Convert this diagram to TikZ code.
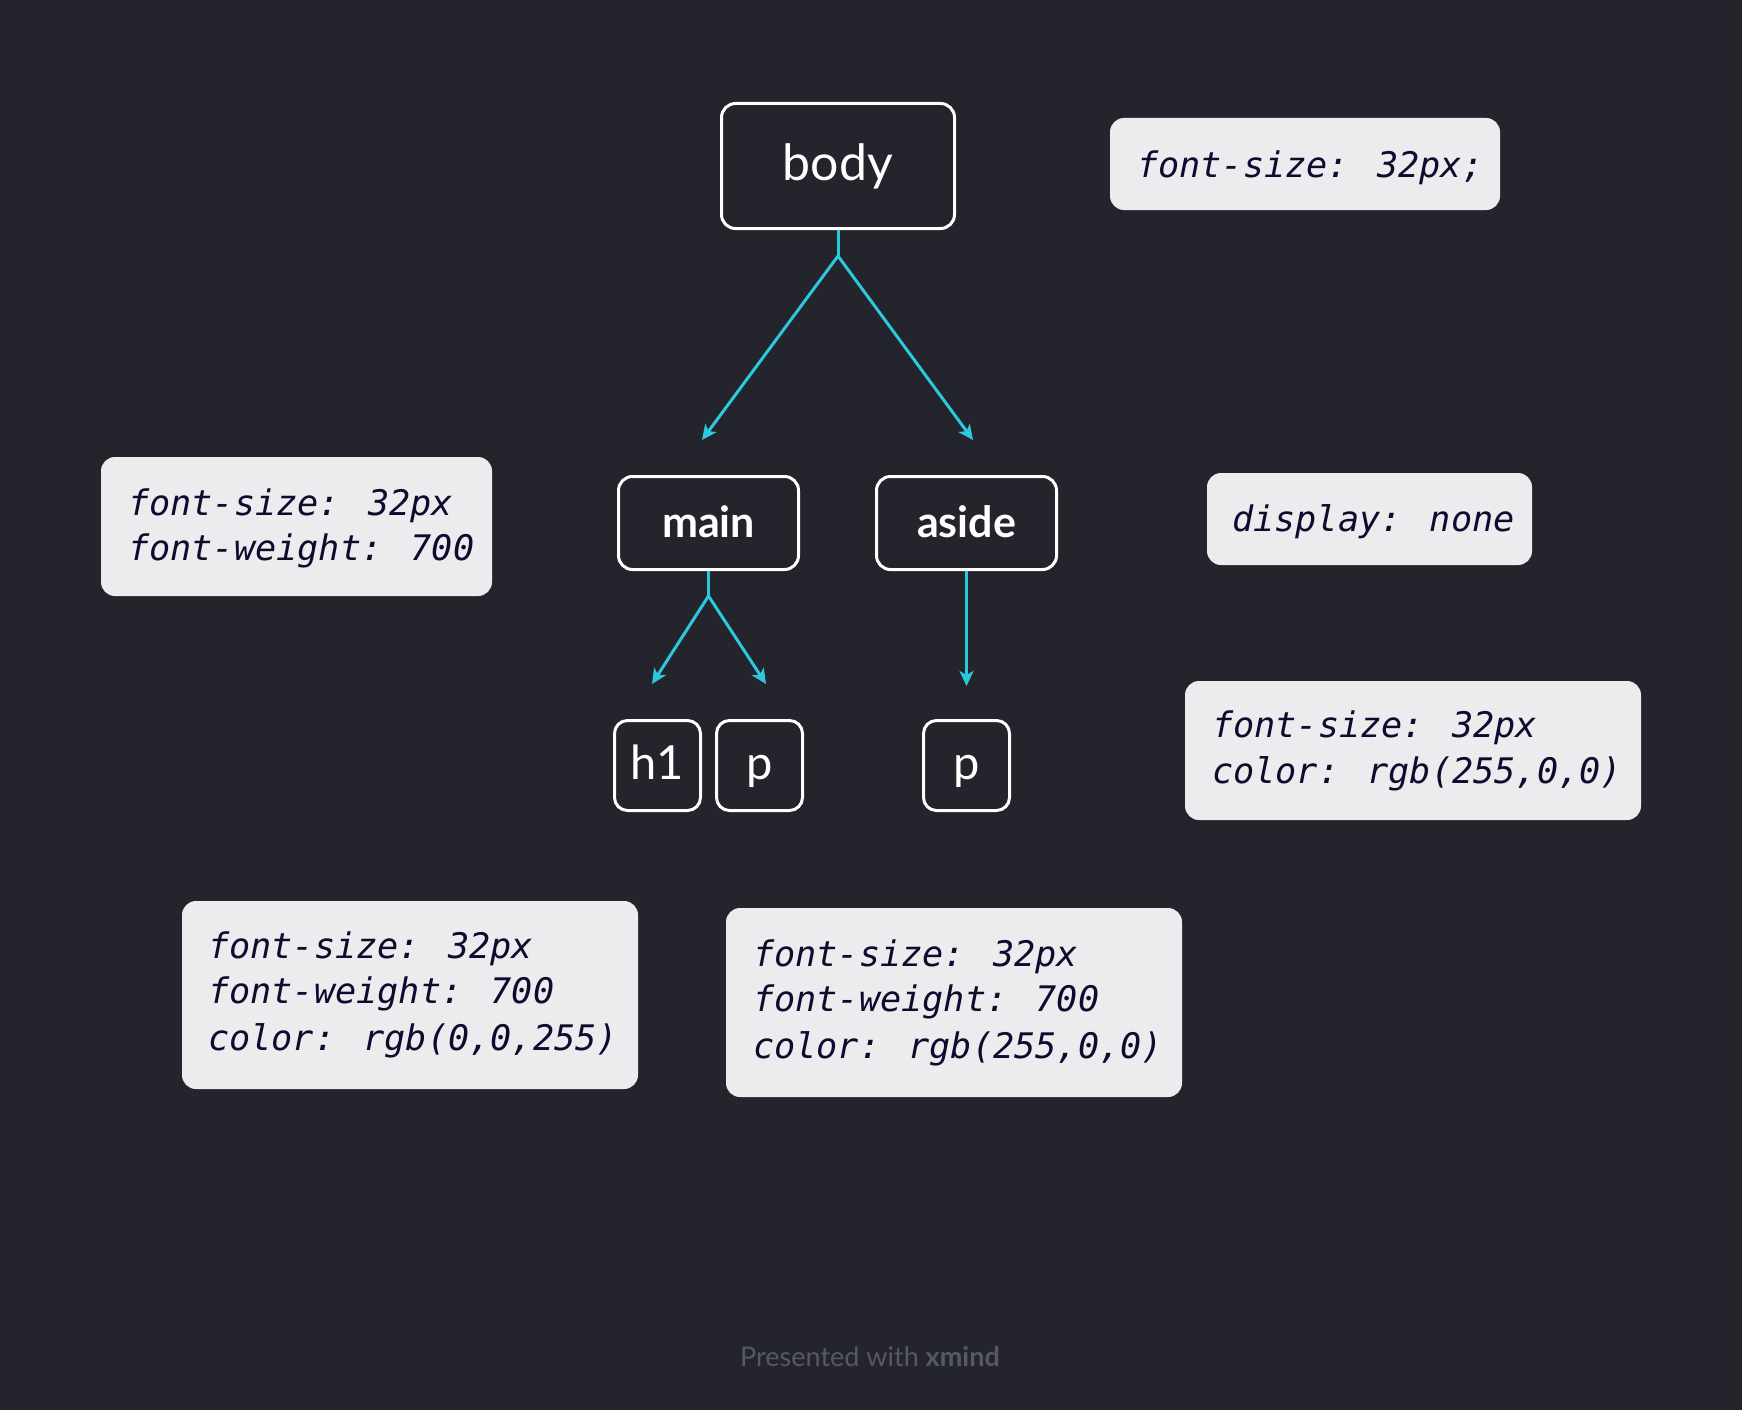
\documentclass[tikz,border=0pt]{standalone}
\usepackage{fontspec}
\setmainfont{Lato}
\newfontfamily\monof{DejaVu Sans Mono}[ItalicFont={DejaVu Sans Mono Oblique}]
\usetikzlibrary{arrows.meta}
\definecolor{bg}{HTML}{23242C}
\definecolor{notefill}{HTML}{EDEBEE}
\definecolor{notetext}{HTML}{0D0B2E}
\definecolor{cyanline}{HTML}{2CC9DD}
\definecolor{footgray}{HTML}{575961}
\begin{document}
\begin{tikzpicture}[x=1pt,y=-1pt,
  topic/.style={draw=white, line width=3pt, rounded corners=14pt, fill=bg, text=white,
    inner sep=0pt, text height=38pt, text depth=10pt},
  toplabel/.style={topic, font=\fontsize{50}{58}\selectfont},
  sublabel/.style={topic, font=\bfseries\fontsize{43}{50}\selectfont},
  leaflabel/.style={topic, font=\fontsize{47}{54}\selectfont, rounded corners=13pt},
  note/.style={fill=notefill, draw=none, rounded corners=14pt, inner sep=0pt},
  notetxt/.style={anchor=base west, inner sep=0pt, text=notetext,
    font=\monof\itshape\fontsize{35.2}{46}\selectfont},
  cline/.style={draw=cyanline, line width=3pt},
  conn/.style={cline, -{Stealth[length=15pt,width=14pt,inset=4pt]}}
]
\fill[bg] (0,0) rectangle (1742,1410);
\useasboundingbox (0,0) rectangle (1742,1410);

% topic nodes
\node[toplabel, minimum width=233pt, minimum height=125pt] (body) at (838,166) {body};
\node[sublabel, minimum width=180pt, minimum height=93pt] (main) at (708.5,523) {main};
\node[sublabel, minimum width=180pt, minimum height=93pt] (aside) at (966.5,523) {aside};
\node[leaflabel, minimum width=86pt, minimum height=90pt] (h1) at (657.5,765.5) {h1};
\node[leaflabel, minimum width=86pt, minimum height=90pt] (p1) at (759.5,765.5) {p};
\node[leaflabel, minimum width=86pt, minimum height=90pt] (p2) at (966.5,765.5) {p};

% connectors
\coordinate (bodyfork) at (838,256);
\coordinate (bodyL) at (702,440);
\coordinate (bodyR) at (973,440);
\coordinate (mainfork) at (708.5,596);
\coordinate (mainL) at (652,684);
\coordinate (mainR) at (766,684);
\coordinate (asideEnd) at (966.5,686);
\draw[cline] (body.south) -- (bodyfork);
\draw[conn] (bodyfork) -- (bodyL);
\draw[conn] (bodyfork) -- (bodyR);
\draw[cline] (main.south) -- (mainfork);
\draw[conn] (mainfork) -- (mainL);
\draw[conn] (mainfork) -- (mainR);
\draw[conn] (aside.south) -- (asideEnd);

% notes
\node[note, minimum width=390pt, minimum height=92pt] (noteA) at (1305,164) {};
\node[notetxt] (noteA1) at (1137,177) {font-size: 32px;};

\node[note, minimum width=391pt, minimum height=139pt] (noteB) at (296.5,526.5) {};
\node[notetxt] (noteB1) at (128,515) {font-size: 32px};
\node[notetxt] (noteB2) at (128,560) {font-weight: 700};

\node[note, minimum width=325pt, minimum height=92pt] (noteC) at (1369.5,519) {};
\node[notetxt] (noteC1) at (1232,531) {display: none};

\node[note, minimum width=456pt, minimum height=139pt] (noteD) at (1413,750.5) {};
\node[notetxt] (noteD1) at (1212,737) {font-size: 32px};
\node[notetxt] (noteD2) at (1212,783) {color: rgb(255,0,0)};

\node[note, minimum width=456pt, minimum height=188pt] (noteE) at (410,995) {};
\node[notetxt] (noteE1) at (208,958) {font-size: 32px};
\node[notetxt] (noteE2) at (208,1003) {font-weight: 700};
\node[notetxt] (noteE3) at (208,1050) {color: rgb(0,0,255)};

\node[note, minimum width=456pt, minimum height=189pt] (noteF) at (954,1002.5) {};
\node[notetxt] (noteF1) at (753,966) {font-size: 32px};
\node[notetxt] (noteF2) at (753,1011) {font-weight: 700};
\node[notetxt] (noteF3) at (753,1058) {color: rgb(255,0,0)};

% footer
\node[anchor=base, inner sep=0pt, text=footgray, font=\fontsize{27}{32}\selectfont] (footer) at (870,1366) {Presented with \textbf{xmind}};
\end{tikzpicture}
\end{document}
